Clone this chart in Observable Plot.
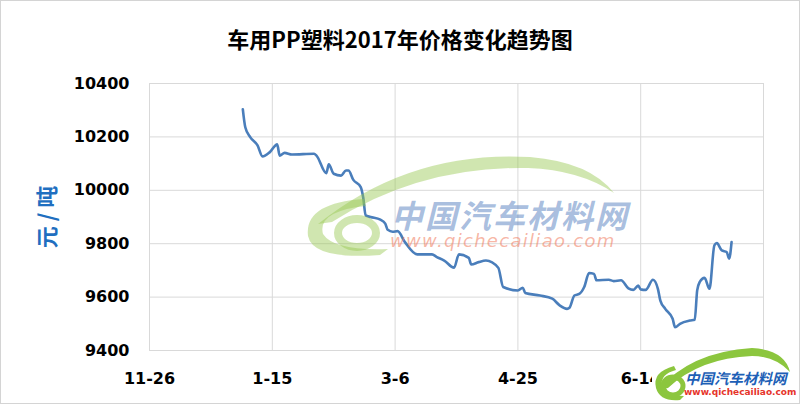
<!DOCTYPE html>
<html><head><meta charset="utf-8">
<script src="https://cdn.jsdelivr.net/npm/d3@7"></script>
<script src="https://cdn.jsdelivr.net/npm/@observablehq/plot@0.6"></script>
<style>
body{margin:0;background:#fff;}
#wrap{position:relative;width:800px;height:404px;overflow:hidden;background:#fff;}
#wrap > svg{display:block;}
.ov{position:absolute;pointer-events:none;white-space:nowrap;}
</style></head><body>
<div id="wrap"></div>
<script>
const title = "车用PP塑料2017年价格变化趋势图";
const yLabel = "元 / 吨";
const dates = ["2017-01-03","2017-01-04","2017-01-06","2017-01-09","2017-01-11","2017-01-14","2017-01-17","2017-01-18","2017-01-20","2017-01-23",
"2017-02-01","2017-02-02","2017-02-06","2017-02-07","2017-02-09","2017-02-12","2017-02-14","2017-02-15","2017-02-17","2017-02-20",
"2017-02-21","2017-02-22","2017-02-24","2017-02-28","2017-03-02","2017-03-03","2017-03-05","2017-03-07","2017-03-10","2017-03-15",
"2017-03-21","2017-03-23","2017-03-26","2017-03-30","2017-04-01","2017-04-05","2017-04-06","2017-04-09","2017-04-12","2017-04-17",
"2017-04-19","2017-04-25","2017-04-27","2017-04-28","2017-05-04","2017-05-09","2017-05-12","2017-05-15","2017-05-16","2017-05-18",
"2017-05-20","2017-05-22","2017-05-24","2017-05-26","2017-05-27","2017-06-01","2017-06-03","2017-06-06","2017-06-09","2017-06-11",
"2017-06-13","2017-06-14","2017-06-16","2017-06-19","2017-06-21","2017-06-22","2017-06-24","2017-06-27","2017-06-28","2017-06-30",
"2017-07-04","2017-07-06","2017-07-07","2017-07-08","2017-07-10","2017-07-12","2017-07-14","2017-07-15","2017-07-17","2017-07-19",
"2017-07-20","2017-07-21"];
const prices = [10303,10236,10199,10168,10127,10143,10172,10130,10140,10134,
10137,10130,10064,10097,10062,10055,10074,10074,10039,10012,
9974,9906,9900,9890,9875,9852,9845,9847,9806,9760,
9760,9750,9737,9710,9760,9747,9722,9731,9737,9710,
9638,9625,9635,9615,9606,9594,9569,9556,9560,9606,
9612,9638,9690,9687,9663,9665,9660,9663,9633,9627,
9643,9629,9627,9665,9631,9587,9556,9519,9487,9500,
9512,9515,9625,9656,9672,9631,9794,9802,9775,9769,
9744,9806];
const tickDates = ["2016-11-26","2017-01-15","2017-03-06","2017-04-25","2017-06-14","2017-08-03"];
const tickLabels = ["11-26","1-15","3-6","4-25","6-14",""];
const yTicks = [9400,9600,9800,10000,10200,10400];

const parse = d3.utcParse("%Y-%m-%d");
const data = dates.map((d,i)=>({date: parse(d), price: prices[i]}));
const xt = tickDates.map(parse);
const labelMap = new Map(xt.map((d,i)=>[+d, tickLabels[i]]));

const chart = Plot.plot({
  width: 800, height: 404,
  marginLeft: 149, marginRight: 37, marginTop: 83, marginBottom: 54,
  style: {fontFamily: "DejaVu Sans", fontSize: "16px", fontWeight: "bold", color: "#000", background: "#fff", overflow: "visible"},
  x: {type: "utc", domain: [xt[0], xt[xt.length-1]]},
  y: {domain: [9400, 10400]},
  marks: [
    Plot.gridX(xt, {stroke: "#d9d9d9", strokeOpacity: 1}),
    Plot.gridY(yTicks, {stroke: "#d9d9d9", strokeOpacity: 1}),
    Plot.axisX(xt, {tickSize: 0, tickPadding: 22, tickFormat: d => labelMap.get(+d) ?? "", label: null, fill: "#000"}),
    Plot.axisY(yTicks, {tickSize: 0, tickPadding: 20, tickFormat: d => String(d), label: null, fill: "#000"}),
    Plot.lineY(data, {x: "date", y: "price", stroke: "#4a7ebb", strokeWidth: 2.6, curve: "monotone-x"}),
    Plot.text([yLabel], {frameAnchor: "left", textAnchor: "middle", rotate: -90, dx: -102, fill: "#1f6fc0", fontSize: 22, fontWeight: "bold", fontFamily: "Noto Sans CJK SC"})
  ]
});
const wrap = document.getElementById("wrap");
wrap.appendChild(chart);

function ov(html, css){ const d=document.createElement("div"); d.className="ov"; d.innerHTML=html; d.style.cssText += css; wrap.appendChild(d); return d; }
// watermark shapes (decorative overlay)
ov(`<svg width="800" height="404" xmlns="http://www.w3.org/2000/svg">
  <g fill="rgba(150,200,80,0.45)">
    <path d="M318,224 Q410,150 530,157 Q590,162 614,193 Q580,170 528,168 Q420,166 332,222 Z"/>
    <path d="M364,199 Q304,203 308,236 Q313,260 380,255 L388,249 Q334,251 323,234 Q317,211 366,206 Z"/>
  </g>
  <ellipse cx="357" cy="233" rx="19" ry="14" fill="none" stroke="rgba(150,200,80,0.45)" stroke-width="8"/>
  <rect x="652" y="352" width="148" height="52" fill="#fff"/>
  <g fill="#8cc63e">
    <path d="M658,390 Q690,352 752,348 Q785,350 790,372 Q775,356 752,356 Q700,358 668,388 Z"/>
    <path d="M674,366 Q652,372 656,388 Q660,402 680,400 L684,396 Q664,396 662,386 Q660,374 676,370 Z"/>
  </g>
  <ellipse cx="673" cy="386" rx="10" ry="9" fill="none" stroke="#8cc63e" stroke-width="5"/>
</svg>`, "left:0;top:0;width:800px;height:404px;");
ov("中国汽车材料网", "left:391px;top:194px;font:italic bold 32px 'Noto Sans CJK SC';color:rgba(95,135,195,0.55);letter-spacing:2px;line-height:40px;");
ov("www.qichecailiao.com", "left:390px;top:230px;font:italic 18px 'DejaVu Sans';color:rgba(240,120,90,0.55);letter-spacing:1.3px;line-height:22px;");
ov("中国汽车材料网", "left:685px;top:369px;font:italic bold 14.5px 'Noto Sans CJK SC';color:#1d5fb6;line-height:18px;");
ov("www.qichecailiao.com", "left:684px;top:386px;font:bold 9px 'DejaVu Sans';color:#e6342a;line-height:12px;");
ov(title, "left:0;top:22px;width:800px;text-align:center;font:bold 22px 'Noto Sans CJK SC';color:#000;line-height:32px;");
ov("", "left:0;top:0;width:798px;height:402px;border:1px solid #d4d4d4;");
</script>
</body></html>
